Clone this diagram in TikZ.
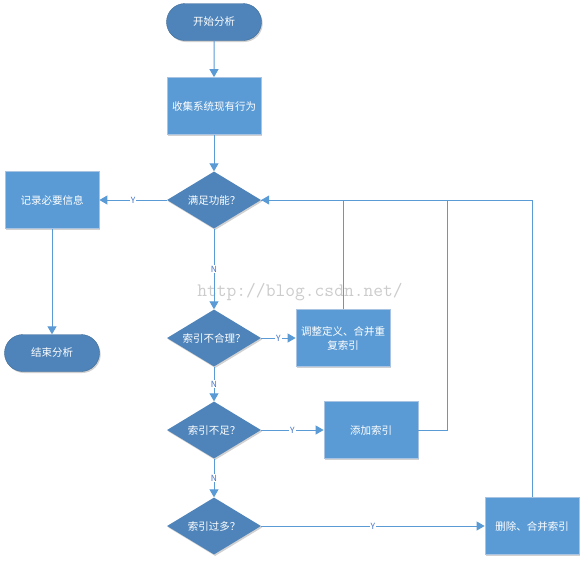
\documentclass[tikz,border=0pt]{standalone}
\usepackage{fontspec}
\setmainfont{Noto Sans CJK SC}
\usetikzlibrary{arrows.meta,shapes.geometric,shapes.misc,shadows}
\definecolor{darkfill}{HTML}{4E84BA}
\definecolor{boxfill}{HTML}{5B9BD5}
\definecolor{boxedge}{HTML}{A9C4E2}
\definecolor{linecol}{HTML}{5B9BD5}
\definecolor{labcol}{HTML}{4472C4}
\begin{document}
\begin{tikzpicture}[x=1pt,y=-1pt,
  txt/.style={text=white,font=\fontsize{10.5}{14}\selectfont,align=center},
  shad/.style={drop shadow={shadow xshift=1.2pt,shadow yshift=-1.5pt,opacity=0.18,fill=black}},
  pill/.style={txt,shad,rounded rectangle,fill=darkfill,draw=darkfill!80!black,line width=0.4pt,minimum width=95pt,minimum height=37pt,inner sep=0pt},
  procbox/.style={txt,shad,rectangle,fill=boxfill,draw=boxedge,line width=0.8pt,minimum width=94pt,minimum height=57pt,inner sep=2pt},
  decide/.style={txt,shad,diamond,fill=darkfill,draw=none,aspect=1.65,minimum width=94pt,minimum height=57pt,inner sep=0pt},
  flow/.style={draw=linecol,line width=1pt,-{Triangle[length=8pt,width=9pt]}},
  plainline/.style={draw=linecol,line width=1pt},
  lab/.style={font=\fontsize{8.5}{10}\selectfont,text=labcol,fill=white,inner sep=1pt}
]
\useasboundingbox[fill=white] (0,0) rectangle (585,563);

\node[text=black!20,font=\ttfamily\fontsize{19}{20}\selectfont] (wm) at (300,292) {http://blog.csdn.net/};

\node[pill] (start) at (214,22) {开始分析};
\node[procbox] (collect) at (214,106) {收集系统现有行为};
\node[decide] (q1) at (214,200) {满足功能？};
\node[procbox] (record) at (52,200) {记录必要信息};
\node[pill] (finish) at (52,353) {结束分析};
\node[decide] (q2) at (214,338) {索引不合理？};
\node[procbox,text width=88pt] (adjust) at (343,338) {调整定义、合并重\\复索引};
\node[decide] (q3) at (214,430) {索引不足？};
\node[procbox] (addidx) at (371,430) {添加索引};
\node[decide] (q4) at (214,526) {索引过多？};
\node[procbox] (delidx) at (532,526) {删除、合并索引};
\coordinate (addturn) at (447,430);

\draw[flow] (start) -- (collect);
\draw[flow] (collect) -- (q1);
\draw[flow] (q1) -- node[lab]{Y} (record);
\draw[flow] (record) -- (finish);
\draw[flow] (q1) -- node[lab]{N} (q2);
\draw[flow] (q2) -- node[lab]{Y} (adjust);
\draw[flow] (q2) -- node[lab]{N} (q3);
\draw[flow] (q3) -- node[lab]{Y} (addidx);
\draw[flow] (q3) -- node[lab]{N} (q4);
\draw[flow] (q4) -- node[lab]{Y} (delidx);

\draw[flow] (delidx.north) |- (q1.east);
\draw[plainline] (adjust.north) |- (q1.east);
\draw[plainline] (addidx.east) -- (addturn) |- (q1.east);
\end{tikzpicture}
\end{document}
